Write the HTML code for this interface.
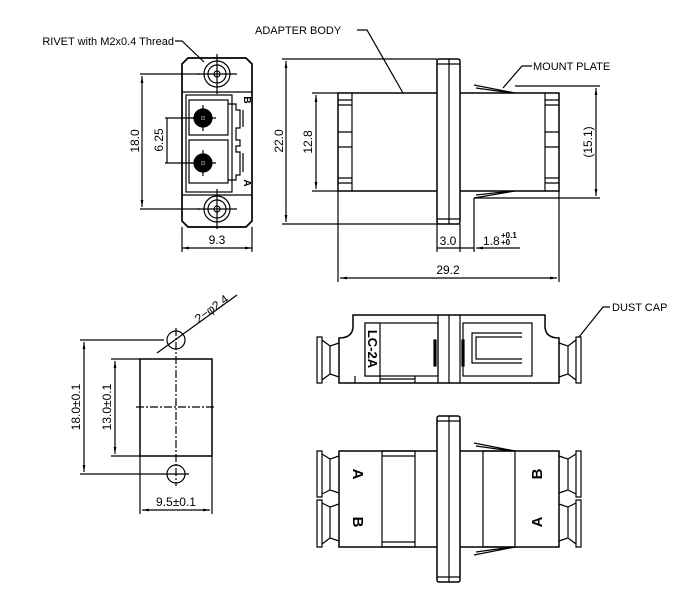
<!DOCTYPE html>
<html><head><meta charset="utf-8"><style>
html,body{margin:0;padding:0;background:#fff}
svg{display:block}
text{font-family:"Liberation Sans",Arial,sans-serif;fill:#000}
</style></head><body>
<svg width="685" height="605" viewBox="0 0 685 605" xmlns="http://www.w3.org/2000/svg">
<defs>
<marker id="ar" viewBox="0 0 10 10" refX="10" refY="5" markerWidth="6" markerHeight="6" orient="auto-start-reverse"><path d="M0,3 L10,5 L0,7 z" fill="#000"/></marker>
</defs>
<g stroke="#000" stroke-width="1.2" fill="none">
<!-- FRONT VIEW -->
<path d="M188,58 L246,58 L252,64 L252,221 L246,227 L188,227 L182,221 L182,64 Z" stroke-width="1.7"/>
<line x1="182" y1="92" x2="252" y2="92"/>
<line x1="182" y1="195" x2="252" y2="195"/>
<rect x="186" y="95" width="46" height="97"/>
<rect x="189" y="100" width="39" height="35"/>
<rect x="189" y="140" width="39" height="43"/>
<path d="M228,104 L236,104 L236,110 L240,110 L240,128 L236,128 L236,140 L240,140 L240,146 L236,146 L236,152 L240,152 L240,175 L236,175 L236,180 L228,180"/>
<line x1="243" y1="110" x2="243" y2="127"/><line x1="243" y1="153" x2="243" y2="172"/>
<circle cx="217" cy="74" r="13"/><circle cx="217" cy="74" r="9"/><circle cx="217" cy="74" r="3"/>
<circle cx="217" cy="209" r="13"/><circle cx="217" cy="209" r="9"/><circle cx="217" cy="209" r="3"/>
<line x1="217" y1="54" x2="217" y2="94"/><line x1="197" y1="74" x2="237" y2="74"/>
<line x1="217" y1="189" x2="217" y2="229"/><line x1="197" y1="209" x2="237" y2="209"/>
<circle cx="203" cy="118" r="9" fill="#000"/><circle cx="203" cy="163" r="9" fill="#000"/>
<circle cx="203" cy="118" r="2" fill="#fff" stroke="none"/><circle cx="203" cy="163" r="2" fill="#fff" stroke="none"/>
<line x1="190" y1="118" x2="216" y2="118"/><line x1="203" y1="105" x2="203" y2="131"/>
<line x1="190" y1="163" x2="216" y2="163"/><line x1="203" y1="150" x2="203" y2="176"/>
<!-- dims front -->
<line x1="140" y1="74" x2="200" y2="74"/><line x1="140" y1="209" x2="200" y2="209"/>
<line x1="142" y1="76" x2="142" y2="207" marker-start="url(#ar)" marker-end="url(#ar)"/>
<line x1="165" y1="118" x2="195" y2="118"/><line x1="165" y1="163" x2="195" y2="163"/>
<line x1="167" y1="118" x2="167" y2="163"/>
<line x1="182" y1="227" x2="182" y2="252"/><line x1="252" y1="227" x2="252" y2="252"/>
<line x1="182" y1="248" x2="252" y2="248" marker-start="url(#ar)" marker-end="url(#ar)"/>
<path d="M175,41 L182,41 L204,62"/>
<!-- SIDE VIEW -->
<rect x="437" y="59" width="23" height="165" rx="2" stroke-width="1.5"/>
<line x1="449" y1="59" x2="449" y2="224"/>
<line x1="437" y1="64" x2="460" y2="64"/><line x1="437" y1="219" x2="460" y2="219"/>
<path d="M437,93 L338,93 L338,191 L437,191 M460,93 L559,93 L559,191 L460,191" stroke-width="1.5"/>
<line x1="352" y1="93" x2="352" y2="191"/><line x1="545" y1="93" x2="545" y2="191"/>
<path d="M338,100h14M338,105h14M338,132h14M338,147h14M338,178h14M338,183h14M545,100h14M545,105h14M545,132h14M545,147h14M545,178h14M545,183h14"/>
<path d="M474,85 L515,93 M476,88 L512,93 M474,198 L515,191 M476,195 L512,191"/>
<line x1="282" y1="59" x2="437" y2="59"/><line x1="282" y1="224" x2="437" y2="224"/>
<line x1="286" y1="61" x2="286" y2="222" marker-start="url(#ar)" marker-end="url(#ar)"/>
<line x1="312" y1="93" x2="338" y2="93"/><line x1="312" y1="191" x2="338" y2="191"/>
<line x1="316" y1="95" x2="316" y2="189" marker-start="url(#ar)" marker-end="url(#ar)"/>
<line x1="515" y1="86" x2="600" y2="86"/><line x1="474" y1="198" x2="600" y2="198"/>
<line x1="596" y1="88" x2="596" y2="196" marker-start="url(#ar)" marker-end="url(#ar)"/>
<line x1="437" y1="224" x2="437" y2="252"/><line x1="460" y1="224" x2="460" y2="252"/>
<line x1="474" y1="198" x2="474" y2="252"/>
<line x1="437" y1="248" x2="474" y2="248"/>
<line x1="520" y1="248" x2="476" y2="248" marker-end="url(#ar)"/>
<line x1="338" y1="191" x2="338" y2="282"/><line x1="559" y1="191" x2="559" y2="282"/>
<line x1="340" y1="278" x2="557" y2="278" marker-start="url(#ar)" marker-end="url(#ar)"/>
<path d="M357,30 L367,30 L403,93"/>
<path d="M532,66 L522,66 L503,88"/>
<!-- CUTOUT -->
<rect x="140" y="359" width="72" height="97" stroke-width="1.5"/>
<circle cx="176" cy="340" r="9"/><circle cx="176" cy="474" r="9"/>
<line x1="176" y1="328" x2="176" y2="486" stroke-dasharray="8,2,2,2"/>
<line x1="136" y1="407" x2="216" y2="407" stroke-dasharray="8,2,2,2"/>
<line x1="163" y1="474" x2="189" y2="474"/>
<line x1="80" y1="340" x2="164" y2="340"/><line x1="80" y1="474" x2="164" y2="474"/>
<line x1="84" y1="342" x2="84" y2="472" marker-start="url(#ar)" marker-end="url(#ar)"/>
<line x1="111" y1="359" x2="140" y2="359"/><line x1="111" y1="456" x2="140" y2="456"/>
<line x1="115" y1="361" x2="115" y2="454" marker-start="url(#ar)" marker-end="url(#ar)"/>
<line x1="140" y1="456" x2="140" y2="514"/><line x1="212" y1="456" x2="212" y2="514"/>
<line x1="142" y1="510" x2="210" y2="510" marker-start="url(#ar)" marker-end="url(#ar)"/>
<line x1="157" y1="353" x2="237" y2="295"/>
<!-- TOP VIEW -->
<path d="M353,315 L545,315 L545,326 Q545,338 559,338 L559,383 L339,383 L339,338 Q353,338 353,326 Z" stroke-width="1.5"/>
<line x1="438" y1="315" x2="438" y2="383"/><line x1="449" y1="315" x2="449" y2="383"/><line x1="460" y1="315" x2="460" y2="383"/>
<rect x="365" y="323" width="73" height="53"/>
<rect x="365" y="323" width="15" height="53" fill="#fff"/>
<rect x="463" y="323" width="69" height="53"/>
<path d="M522,333 L472,333 L472,363 L522,363 M522,337 L476,337 L476,359 L522,359"/>
<path d="M380,376 L380,383 M355,376 L355,383 M380,379 L415,379 M415,376 L415,383"/>
<rect x="434" y="340" width="2" height="26" fill="#000"/><rect x="462" y="340" width="2" height="26" fill="#000"/>
<path d="M339,343 L330,346 L330,374 L339,377 M322,337 L317,337 L317,383 L322,383 Z M322,340 L330,346 M322,380 L330,374"/>
<path d="M559,343 L568,346 L568,374 L559,377 M576,337 L581,337 L581,383 L576,383 Z M576,340 L568,346 M576,380 L568,374"/>
<path d="M610,307 L603,307 L579,337"/>
<!-- BOTTOM VIEW -->
<rect x="437" y="416" width="23" height="166" rx="2" stroke-width="1.5"/>
<line x1="449" y1="416" x2="449" y2="582"/>
<line x1="437" y1="421" x2="460" y2="421"/><line x1="437" y1="577" x2="460" y2="577"/>
<path d="M437,451 L339,451 L339,547 L437,547 M460,451 L559,451 L559,547 L460,547" stroke-width="1.5"/>
<rect x="382" y="451" width="33" height="96"/>
<line x1="382" y1="456" x2="415" y2="456"/><line x1="382" y1="542" x2="415" y2="542"/>
<rect x="483" y="451" width="32" height="96"/>
<path d="M474,443 L515,451 M476,446 L512,451 M474,555 L515,547 M476,552 L512,547"/>
<path d="M339,456 L330,459 L330,490 L339,493 M317,451 h5 v46 h-5 z M322,454 L330,459 M322,494 L330,490"/>
<path d="M339,504 L330,507 L330,538 L339,541 M317,500 h5 v47 h-5 z M322,503 L330,507 M322,544 L330,538"/>
<path d="M559,456 L568,459 L568,490 L559,493 M576,451 h5 v46 h-5 z M576,454 L568,459 M576,494 L568,490"/>
<path d="M559,504 L568,507 L568,538 L559,541 M576,500 h5 v47 h-5 z M576,503 L568,507 M576,544 L568,538"/>
</g>
<!-- TEXT -->
<g font-size="11">
<text x="174" y="45" text-anchor="end">RIVET with M2x0.4 Thread</text>
<text x="255" y="34">ADAPTER BODY</text>
<text x="533" y="70">MOUNT PLATE</text>
<text x="612" y="311">DUST CAP</text>
</g>
<g font-size="12">
<text transform="translate(139,141) rotate(-90)" text-anchor="middle">18.0</text>
<text transform="translate(163,140) rotate(-90)" text-anchor="middle">6.25</text>
<text x="217" y="244" text-anchor="middle">9.3</text>
<text transform="translate(283,141) rotate(-90)" text-anchor="middle">22.0</text>
<text transform="translate(312,142) rotate(-90)" text-anchor="middle">12.8</text>
<text transform="translate(592,142) rotate(-90)" text-anchor="middle">(15.1)</text>
<text x="448" y="245" text-anchor="middle">3.0</text>
<text x="483" y="245">1.8</text>
<text x="448" y="274" text-anchor="middle">29.2</text>
<text transform="translate(80,407) rotate(-90)" text-anchor="middle">18.0±0.1</text>
<text transform="translate(111,407) rotate(-90)" text-anchor="middle">13.0±0.1</text>
<text x="176" y="506" text-anchor="middle">9.5±0.1</text>
<text transform="translate(214,312) rotate(-36)" text-anchor="middle">2−φ2.4</text>
</g>
<text x="501" y="238" font-size="8" font-weight="bold">+0.1</text>
<text x="501" y="245" font-size="8" font-weight="bold">+0</text>
<g font-size="10" font-weight="bold">
<text transform="translate(244,100) rotate(90)" text-anchor="middle">B</text>
<text transform="translate(244,183) rotate(90)" text-anchor="middle">A</text>
</g>
<text transform="translate(368,349) rotate(90)" text-anchor="middle" font-size="13" font-weight="bold">LC-2A</text>
<g font-size="15" font-weight="bold">
<text transform="translate(353,474) rotate(90)" text-anchor="middle">A</text>
<text transform="translate(353,522) rotate(90)" text-anchor="middle">B</text>
<text transform="translate(542,474) rotate(-90)" text-anchor="middle">B</text>
<text transform="translate(542,522) rotate(-90)" text-anchor="middle">A</text>
</g>
</svg>
</body></html>
